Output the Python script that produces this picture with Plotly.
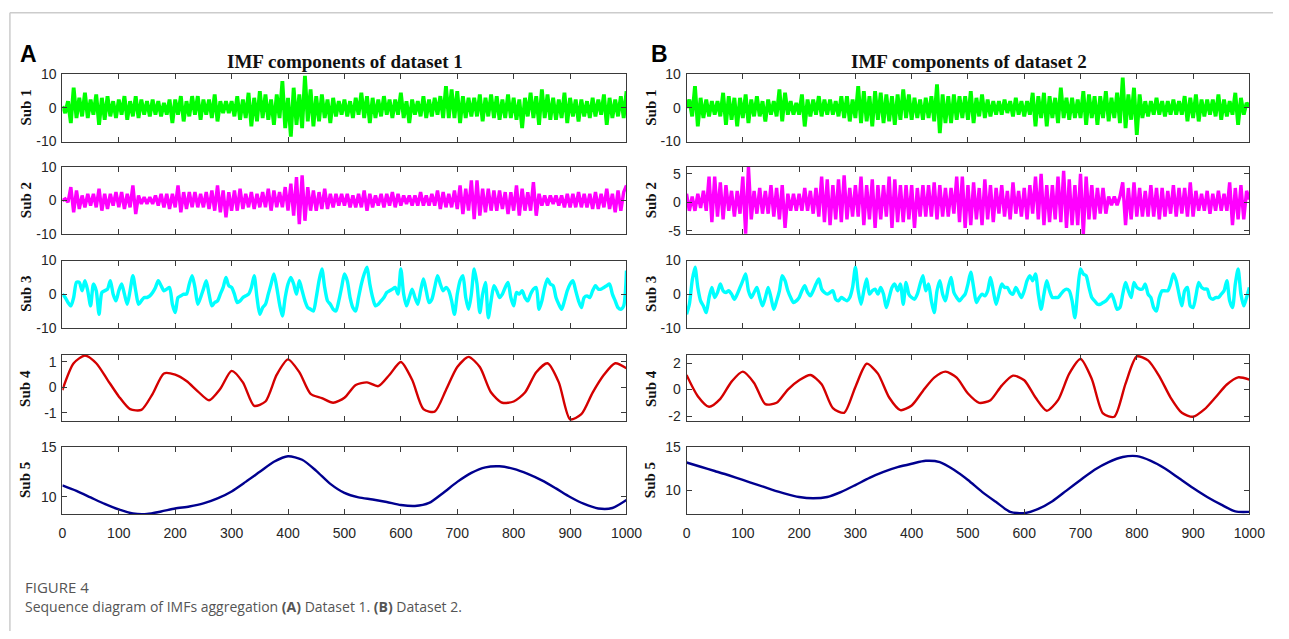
import plotly.graph_objects as go

# ---------------- data ----------------
x_noise = list(range(0, 1001, 5))
x_sub4 = list(range(0, 1001, 20))
x_sub5 = list(range(0, 1001, 25))

a_sub1 = [0.5, -1.5, 2, -4.5, 6, -3, 3, -2.5, 4.5, -3,
          2.5, -2, 4, -5, 3, -3.5, 3.5, -2.5, 2, -3,
          2.5, -2, 3.5, -3.5, 2, -2.5, 3.5, -3, 2.5, -2,
          2, -2.5, 2.5, -2, 2, -2.5, 1.5, -2, 2.5, -4.5,
          2.5, -2, 3.5, -4, 2, -2.5, 3.5, -2, 3.5, -3.5,
          2.5, -2, 2.5, -3, 4, -4, 2, -1.5, 2, -1.5,
          2, -2.5, 3.5, -3.5, 2.5, -3, 4.5, -5.5, 3, -4,
          5, -3, 4, -3.5, 2.5, -5, 4, -3, 8, -6,
          3, -8.5, 6, -5, 4, -6, 9.5, -4, 5.5, -5.5,
          3.5, -4, 4, -3, 2.5, -4.5, 3, -2.5, 2, -2,
          2.5, -2.5, 2, -3, 3, -2, 4.5, -3, 3.5, -4.5,
          3, -3, 2.5, -2.5, 3.5, -2, 2.5, -3, 2.5, -2,
          4.5, -3, 2, -4.5, 2.5, -2, 2, -2.5, 3.5, -3,
          2.5, -2.5, 3, -2, 3.5, -3, 6.5, -3, 5.5, -3,
          5, -4.5, 3.5, -3, 3, -2.5, 3, -2.5, 4, -4,
          3, -2.5, 4, -3, 3.5, -3.5, 2.5, -3, 4, -3,
          3, -3.5, 2.5, -6, 3, -2.5, 4.5, -3, 3.5, -5,
          5.5, -3, 4, -3.5, 3, -3.5, 2.5, -3, 4.5, -4.5,
          3, -2.5, 2.5, -4, 2.5, -2.5, 2, -3, 3, -2.5,
          2.5, -2, 4, -5, 3, -3, 2.5, -2.5, 3.5, -3,
          5]

a_sub2 = [0, 0.5, -0.5, 4, -3.5, 3, -2.5, 1.5, -2, 2,
          -1.5, 2, -2, 3.5, -3, 2, -2.5, 2, -1.5, 2.5,
          -2, 2.5, -2.5, 2, -2, 4.5, -4, 1.5, -1, 1,
          -1, 1, -1, 1.5, -1.5, 2, -2, 2, -2.5, 2,
          -2, 4.5, -3.5, 2.5, -2.5, 2.5, -2, 2.5, -2, 2,
          -2, 2.5, -2.5, 3, -3, 4.5, -3.5, 3, -5, 2.5,
          -3, 3, -3, 3.5, -2.5, 2, -2, 2.5, -2.5, 2,
          -2, 2.5, -2, 3.5, -3, 3, -2, 2.5, -2, 4,
          -3, 5, -4.5, 7, -7, 7.5, -6, 4, -3, 3,
          -3, 2.5, -2.5, 3.5, -2.5, 2, -2, 2, -1.5, 2,
          -1.5, 2, -2, 1.5, -2, 2, -2, 3, -3, 2,
          -2, 1.5, -1.5, 2, -2, 2, -1.5, 2.5, -2, 2,
          -1.5, 1.5, -1, 1.5, -1.5, 1.5, -1.5, 2.5, -1.5, 1.5,
          -1.5, 2, -1.5, 3, -2.5, 2.5, -2, 2, -2, 3,
          -2.5, 4.5, -4, 3.5, -3, 6, -5.5, 6, -4.5, 3.5,
          -3.5, 3.5, -3, 3, -3, 3, -2.5, 2.5, -4, 2.5,
          -3, 4.5, -4.5, 3.5, -3, 2.5, -3, 5.5, -4.5, 2,
          -1.5, 1.5, -1.5, 1.5, -1, 1.5, -1.5, 1.5, -2, 2,
          -2, 2, -2, 2.5, -2, 2, -2, 2, -2.5, 2.5,
          -2.5, 2, -2, 3.5, -2.5, 2, -3.5, 3, -3, 2.5,
          4.5]

a_sub3 = [0, -1, -2.5, -3.5, -1, 3.5, 3.5, 1, 4, 1,
          -3.5, 3, 1, -6, 0.5, 1, 1.5, 4, 0, -2,
          1, 3, 0, -3, 1, 5.5, 1, -3, -2, -1,
          -1, -0.5, 0.5, 2, 4, 2.5, 1, 1.5, 2, -3,
          -5.5, -1, -0.5, 0, 0, 3, 5.5, 2, -3, -1,
          1.5, 4, 0, -3.5, -2.5, -2, 0, 2, 5, 2.5,
          2, 0, -2.5, -2, -1, -0.5, 0, 2, 5.5, -1,
          -6, -4, -3, 0, 3, 6, 2, -3, -6.5, -1,
          3, 5, 3, 0, 4, 1, -2, -4, -4.5, -5,
          -1, 4, 7.5, 2, -2, -3, -4.5, -5, -2, 2,
          6, 4, -1, -4, -5, -1, 3, 6, 8, 3,
          -1, -3.5, -3, -2, -1, 0.5, 1, 1.5, 2, 0,
          7.5, 0, -3.5, -1, 1.5, -1, -3, 1, 4.5, 1,
          -2.5, -1.5, 2, 5.5, 3, 1, 2, 1, -2, -6,
          0, 4, 5.5, -1, -4.5, 0, 7.5, 3, -5.5, 0,
          3.5, -7, -2, 2.5, 1, -1, 0, 2, 3.5, -1,
          -3.5, 0.5, 0, 1, -1, -2, 0, 1.5, 2, -4.5,
          -2, 2, 4.5, 3, 2.5, -1, -3, -4.5, -2, 1,
          3, 4, 1, -2, -4, -1, -0.5, -1, 1, 2.5,
          1.5, 1.5, 2, 2.5, 3, 0, -2, -4, -4.5, -3.5,
          7]

a_sub4 = [-0.1, 0.95, 1.25, 0.95, 0.3, -0.35, -0.85, -0.88, -0.25, 0.55,
          0.5, 0.25, -0.15, -0.5, -0.05, 0.65, 0.2, -0.72, -0.55, 0.5,
          1.1, 0.6, -0.25, -0.42, -0.6, -0.4, 0.1, 0.2, 0.05, 0.5,
          1.0, 0.3, -0.85, -0.95, -0.1, 0.8, 1.2, 0.8, -0.2, -0.6,
          -0.55, -0.2, 0.6, 0.95, 0.2, -1.25, -1.05, -0.2, 0.5, 0.95,
          0.75]

a_sub5 = [11.15, 10.6, 9.95, 9.3, 8.75, 8.35, 8.3, 8.55, 8.85, 9.05,
          9.35, 9.85, 10.55, 11.5, 12.5, 13.5, 14.05, 13.7, 12.6, 11.3,
          10.4, 9.95, 9.75, 9.5, 9.2, 9.1, 9.4, 10.4, 11.5, 12.4,
          12.95, 13.05, 12.8, 12.3, 11.65, 10.85, 10.0, 9.3, 8.85, 8.9,
          9.7]

b_sub1 = [0, 2.5, -2.5, 6.5, -5.5, 3, -3, 2.5, -2.5, 2,
          -2, 2, -2.5, 4.5, -5, 3.5, -3.5, 3, -5.5, 3,
          -3, 4, -4.5, 2.5, -2.5, 3.5, -2.5, 2, -4, 2.5,
          -2, 2, -2.5, 5.5, -4, 4.5, -2, 2, -2, 1.5,
          -2, 4, -5.5, 2.5, -2.5, 2.5, -2, 3.5, -2.5, 2.5,
          -2, 2.5, -2, 2, -2.5, 3.5, -3, 3.5, -4, 2.5,
          -3, 6.5, -4.5, 5, -4, 3.5, -5.5, 5, -3.5, 4.5,
          -4.5, 4, -4, 3.5, -5, 4, -3.5, 5.5, -3, 4,
          -3.5, 3, -3, 2.5, -3.5, 3, -3, 3.5, -4, 7,
          -7.5, 4, -4.5, 3.5, -4.5, 4, -3.5, 3.5, -3, 3.5,
          -3.5, 5, -4.5, 3, -2.5, 4, -3, 2.5, -2.5, 2,
          -2, 2, -2, 2.5, -1.5, 2, -2.5, 3, -2, 2,
          -2.5, 2, -2, 4.5, -5.5, 3.5, -3, 4.5, -5.5, 3.5,
          -3, 3, -4.5, 6, -3, 3, -3.5, 3, -3, 2.5,
          -3, 5, -5, 4, -3, 3.5, -5, 3.5, -3, 5,
          -4, 3, -3, 4.5, -4.5, 9, -6, 4, -3.5, 6,
          -8, 4, -3, 2, -2.5, 2, -2, 3, -2, 2,
          -2.5, 2, -2, 2.5, -2, 2, -2, 3.5, -4, 3,
          -3, 4, -4, 2.5, -2.5, 2.5, -2, 2.5, -2.5, 4,
          -3.5, 2.5, -2.5, 2, -2, 4.5, -5, 3, -2, 1.5,
          0.5]

b_sub2 = [1.5, -1.5, 1, -1.5, 1.5, -1, 2, -1.5, 4.5, -3.5,
          4.5, -2.5, 3.5, -3, 3, -1.5, 2, -2.5, 2, -2,
          4.5, -5.5, 6.2, -3, 2, -2, 2.5, -2, 2, -2,
          3, -2.5, 2.5, -3, 3, -4.5, 1.5, -1.5, 1.5, -1.5,
          1.5, -1.5, 2.5, -1.5, 2, -2, 2.5, -2.5, 4.5, -3.5,
          4, -4, 3, -3, 4, -3.5, 4.7, -3, 2.5, -2.5,
          3, -2.5, 4.5, -4, 3, -3, 4, -4.5, 3, -3,
          3, -2.5, 4.5, -4.5, 4, -3.5, 3, -3.5, 3, -3,
          3, -4.5, 2.5, -2.5, 3, -2.5, 3, -2.5, 3.5, -3,
          3, -2.5, 2.5, -2.5, 2.5, -2, 4.5, -3.5, 4.5, -4.5,
          3, -4, 3.5, -3, 2.5, -4, 4, -3, 3, -3.5,
          2.5, -2, 3, -2.5, 2, -3, 3.5, -2, 2, -2.5,
          2.5, -3, 3, -2, 4.5, -3, 5, -4, 3, -3.5,
          3, -3, 4.5, -3.5, 5.5, -4.5, 4, -4, 3, -4,
          5, -5.6, 4.5, -3, 3, -3, 2.5, -2, 2.5, -2,
          1, -0.5, 1, -0.5, 1, 3.5, -4, 2.5, -3, 3.5,
          -2.5, 2.5, -2.5, 2, -2.5, 3, -2.5, 2.5, -3, 2.5,
          -2.5, 2, -2, 3, -2.5, 2.5, -2, 2.5, -2.5, 3.5,
          -2.5, 2, -1.5, 1.5, -1.5, 2, -2, 1.5, -1.5, 2,
          -1.5, 1.5, -1.5, 3.5, -4, 2.5, -3, 3, -3, 2,
          0.5]

b_sub3 = [-6, -3, 4, 8, 2, -2, -3.5, -5.5, -1, 2,
          -1, 0.5, 3, 1, 0.5, 1, 0, -1.5, 0, 2,
          4, 6, 1, -1, 0.5, 2, -1, -3.5, -1, 2,
          -1, -4.5, -2, 1, 5.5, 4, 1, -1, -2.5, -2,
          -1, 1, 2.5, 0.5, -0.5, 1, 3, 4.5, 1.5, 0.5,
          0, 0.5, 1, -1.5, -2, -1, -1.5, -2, -1, 2,
          8, 1, -3, 1, 4.5, 0, 1, 1.5, 0, 2,
          0, -4, -1, 2, 3, 1, 3, -3, 3.5, 0,
          -1, -1.5, 0, 3, 5.5, 1, 3, -2, -5.5, 1,
          4, 0, -2, 2, 5, 0.5, -1, -2, -1, 0,
          3, 6.5, 2, -2.5, -1, 0, -0.5, 1, 5, 1,
          -3, 0, 3, 2, 2, 0.5, 0, 2, 0.5, -1,
          1, 4, 5.5, 4, 6, 0, -4.5, 0, 4, 1,
          -1, -1, -1, 0, 1, 1.5, 1, -2, -7, 1,
          7.5, 6, 5.5, 2, -1, -2, -3, -3, -2.5, -2,
          -1, 0, -2, -4.5, -4, 0, 3.5, 1, -1, 3.5,
          2, 1.5, 1.5, 3, 0, -1, -4, -5, -1, 1,
          1, 1, 3, 6, 4, 0, -3.5, 1, 2, -3.5,
          -4, -0.5, 3.5, 2, 1.5, 1.5, -1, -1.5, -1, -1,
          0, 1, 4, -2, -4, 3, 7.5, 0, -3.5, -1,
          2]

b_sub4 = [1.1, -0.5, -1.3, -0.7, 0.6, 1.35, 0.5, -1.1, -1.0, 0.0,
          0.7, 1.1, 0.4, -1.4, -1.75, 0.2, 1.95, 1.2, -0.6, -1.55,
          -1.2, -0.1, 0.9, 1.35, 0.9, -0.3, -1.0, -0.8, 0.3, 1.05,
          0.7, -0.6, -1.6, -0.8, 1.2, 2.3, 0.8, -1.8, -2.05, 0.45,
          2.5, 2.2, 1.0, -0.6, -1.75, -2.05, -1.5, -0.58, 0.38, 0.92,
          0.75]

b_sub5 = [13.25, 12.75, 12.25, 11.75, 11.2, 10.65, 10.1, 9.6, 9.2, 9.05,
          9.2, 9.8, 10.6, 11.45, 12.15, 12.7, 13.1, 13.45, 13.3, 12.4,
          11.2, 9.8, 8.6, 7.45, 7.3, 7.8, 8.7, 9.95, 11.2, 12.4,
          13.3, 13.9, 14.0, 13.45, 12.55, 11.4, 10.25, 9.2, 8.3, 7.5,
          7.45]

sub_labels = ["Sub 1", "Sub 2", "Sub 3", "Sub 4", "Sub 5"]
panel_titles = ["IMF components of dataset 1", "IMF components of dataset 2"]
panel_letters = ["A", "B"]
x_ticks = list(range(0, 1001, 100))

y_ticks_a = [[-10, 0, 10], [-10, 0, 10], [-10, 0, 10], [-1, 0, 1], [10, 15]]
y_ticks_b = [[-10, 0, 10], [-5, 0, 5], [-10, 0, 10], [-2, 0, 2], [10, 15]]
y_ranges_a = [[-10, 10], [-10, 10], [-10, 10], [-1.33, 1.27], [8.3, 15]]
y_ranges_b = [[-10, 10], [-5.6, 6.2], [-10, 10], [-2.4, 2.6], [7.2, 15.1]]

caption_head = "FIGURE 4"
caption_text = "Sequence diagram of IMFs aggregation <b>(A)</b> Dataset 1. <b>(B)</b> Dataset 2."

# ---------------- styling ----------------
W, H = 1289, 639
colors = ["#00ff00", "#ff00ff", "#00ffff", "#d40000", "#00008f"]
widths = [3.8, 3.4, 3.4, 2.4, 2.4]
shapes_line = ["linear", "linear", "spline", "spline", "spline"]

x_dom = [[59.3 / W, 632.3 / W], [693.3 / W, 1265 / W]]
rows_px = [(68, 137), (163, 232), (259, 328), (356, 424), (450, 519)]
y_dom = [[1 - b / H, 1 - t / H] for t, b in rows_px]

panels = [
    [(x_noise, a_sub1), (x_noise, a_sub2), (x_noise, a_sub3), (x_sub4, a_sub4), (x_sub5, a_sub5)],
    [(x_noise, b_sub1), (x_noise, b_sub2), (x_noise, b_sub3), (x_sub4, b_sub4), (x_sub5, b_sub5)],
]
y_ticks_all = [y_ticks_a, y_ticks_b]
y_ranges_all = [y_ranges_a, y_ranges_b]

fig = go.Figure()
layout = {}
axis_color = "#3a3a3a"
tick_font = dict(family="Liberation Sans, Arial, sans-serif", size=14, color="#262626")
annotations = []

k = 0
for p in range(2):
    for r in range(5):
        k += 1
        xs, ys = panels[p][r]
        suffix = "" if k == 1 else str(k)
        fig.add_trace(go.Scatter(
            x=xs, y=ys, mode="lines",
            line=dict(color=colors[r], width=widths[r], shape=shapes_line[r],
                      smoothing=0.7 if shapes_line[r] == "spline" else None),
            xaxis="x" + suffix, yaxis="y" + suffix, showlegend=False,
            hoverinfo="skip"))
        layout["xaxis" + suffix] = dict(
            domain=x_dom[p], range=[0, 1000], anchor="y" + suffix,
            tickvals=x_ticks, ticktext=[str(v) for v in x_ticks],
            ticks="inside", ticklen=5, tickcolor=axis_color,
            showticklabels=(r == 4), tickfont=tick_font, ticklabelstandoff=6,
            showline=True, linecolor=axis_color, linewidth=1, mirror="ticks",
            showgrid=False, zeroline=False, fixedrange=True)
        yt = y_ticks_all[p][r]
        layout["yaxis" + suffix] = dict(
            domain=y_dom[r], range=y_ranges_all[p][r], anchor="x" + suffix,
            tickvals=yt, ticktext=[str(v) for v in yt],
            ticks="inside", ticklen=5, tickcolor=axis_color,
            tickfont=tick_font, ticklabelstandoff=2,
            showline=True, linecolor=axis_color, linewidth=1, mirror="ticks",
            showgrid=False, zeroline=False, fixedrange=True)
        lab_x = (22 if p == 0 else 657) / W
        annotations.append(dict(
            text="<b>" + sub_labels[r] + "</b>", xref="paper", yref="paper",
            x=lab_x, y=(y_dom[r][0] + y_dom[r][1]) / 2, textangle=-90,
            showarrow=False, xanchor="center", yanchor="middle",
            font=dict(family="Liberation Serif, Times New Roman, serif", size=15, color="#111111")))

title_cx = [346 / W, 980 / W]
letter_x = [14 / W, 655 / W]
for p in range(2):
    annotations.append(dict(
        text="<b>" + panel_titles[p] + "</b>", xref="paper", yref="paper",
        x=title_cx[p], y=1 - 55 / H, showarrow=False, xanchor="center", yanchor="middle",
        font=dict(family="Liberation Serif, Times New Roman, serif", size=19, color="#111111")))
    annotations.append(dict(
        text="<b>" + panel_letters[p] + "</b>", xref="paper", yref="paper",
        x=letter_x[p], y=1 - 47 / H, showarrow=False, xanchor="left", yanchor="middle",
        font=dict(family="Liberation Sans, Arial, sans-serif", size=23, color="#000000")))

annotations.append(dict(
    text=caption_head, xref="paper", yref="paper", x=19 / W, y=1 - 594 / H,
    showarrow=False, xanchor="left", yanchor="middle",
    font=dict(family="Open Sans, Noto Sans, sans-serif", size=15, color="#555555")))
annotations.append(dict(
    text=caption_text, xref="paper", yref="paper", x=19 / W, y=1 - 614 / H,
    showarrow=False, xanchor="left", yanchor="middle",
    font=dict(family="Open Sans, Noto Sans, sans-serif", size=14, color="#555555")))

shapes = [
    dict(type="line", xref="paper", yref="paper", x0=6 / W, x1=1, y0=1 - 5 / H, y1=1 - 5 / H,
         line=dict(color="#cccccc", width=1.5)),
    dict(type="line", xref="paper", yref="paper", x0=6 / W, x1=6 / W, y0=0, y1=1 - 5 / H,
         line=dict(color="#cccccc", width=1.5)),
]

fig.update_layout(
    width=W, height=H, margin=dict(l=0, r=0, t=0, b=0),
    paper_bgcolor="white", plot_bgcolor="white",
    annotations=annotations, shapes=shapes, **layout)

fig.write_html("out.html")
